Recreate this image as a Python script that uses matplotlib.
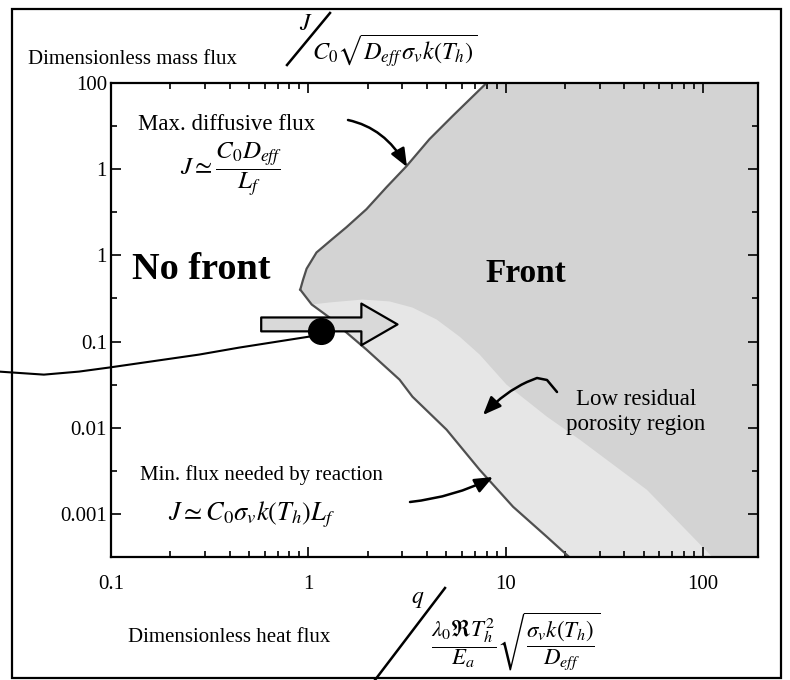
import numpy as np
import matplotlib
matplotlib.use("Agg")
import matplotlib.pyplot as plt
from matplotlib.patches import FancyArrowPatch, Rectangle, ArrowStyle
from matplotlib.path import Path
from matplotlib.lines import Line2D
from matplotlib.ticker import FixedLocator, FixedFormatter, NullFormatter, LogLocator

plt.rcParams['font.family'] = ['Liberation Serif', 'DejaVu Serif']
plt.rcParams['mathtext.fontset'] = 'stix'

# axis ranges
x_min, x_max = 0.1, 190.0
y_min, y_max = 3.16e-4, 100.0

# tick values and labels (as printed on the figure)
x_ticks = [0.1, 1, 10, 100]
x_tick_labels = ['0.1', '1', '10', '100']
y_ticks = [0.001, 0.01, 0.1, 1, 10, 100]
y_tick_labels = ['0.001', '0.01', '0.1', '1', '1', '100']
y_minor = [10**-2.5, 10**-1.5, 10**-0.5, 10**0.5, 10**1.5]

# upper boundary of the front region (max diffusive flux), from the nose upwards
upper_x = [0.91, 0.94, 0.98, 1.10, 1.32, 1.56, 1.97, 2.49, 3.14, 4.11, 5.38, 8.0]
upper_y = [0.40, 0.52, 0.70, 1.08, 1.54, 2.12, 3.43, 6.18, 10.8, 22.3, 41.3, 100]

# lower boundary (min flux needed by reaction), from the nose downwards
lower_x = [0.91, 1.04, 1.28, 1.52, 1.97, 2.90, 3.37, 5.02, 7.38, 10.9, 16.2, 21.5]
lower_y = [0.40, 0.269, 0.190, 0.134, 0.0807, 0.0361, 0.0229, 0.00948, 0.00325,
           0.00121, 0.00054, 0.0003]

# upper edge of the low residual porosity region
light_x = [1.04, 1.28, 1.88, 2.58, 3.37, 4.47, 5.84, 7.38, 10.1, 16.2, 23.8, 52.0, 114]
light_y = [0.269, 0.284, 0.307, 0.292, 0.248, 0.180, 0.114, 0.0706, 0.0316, 0.0134,
           0.00724, 0.0019, 0.0003]

# operating path ending at the black dot
traj_x = [0.027, 0.0457, 0.0689, 0.0977, 0.280, 0.447, 1.01, 1.16]
traj_y = [0.0448, 0.0413, 0.0448, 0.0499, 0.0706, 0.0851, 0.114, 0.131]

W, H = 790, 680


def fxy(px, py):
    # image pixel -> figure fraction
    return (px / W, 1 - py / H)


fig = plt.figure(figsize=(W / 100, H / 100), dpi=100)
ax = fig.add_axes([111 / W, 1 - 557 / H, 647 / W, 474 / H])
ax.set_xscale('log')
ax.set_yscale('log')
ax.set_xlim(x_min, x_max)
ax.set_ylim(y_min, y_max)

# shaded regions
ax.fill(np.r_[upper_x[::-1], lower_x[1:], [x_max, x_max]],
        np.r_[upper_y[::-1], lower_y[1:], [lower_y[-1], y_max]],
        color='#d3d3d3', lw=0, zorder=1)
ax.fill(np.r_[light_x, lower_x[:0:-1]], np.r_[light_y, lower_y[:0:-1]],
        color='#e6e6e6', lw=0, zorder=1)
ax.plot(upper_x, upper_y, color='#505050', lw=1.6, zorder=2)
ax.plot(lower_x, lower_y, color='#505050', lw=1.6, zorder=2)

# big block arrow and the operating point
block = FancyArrowPatch((0.577, 0.158), (2.83, 0.158),
                        arrowstyle=ArrowStyle.Simple(head_length=26, head_width=30, tail_width=10),
                        mutation_scale=1, shrinkA=0, shrinkB=0,
                        fc='#d9d9d9', ec='black', lw=1.6, zorder=4)
ax.add_patch(block)
ax.plot(traj_x, traj_y, color='black', lw=1.5, clip_on=False, zorder=5)
ax.plot(traj_x[-1], traj_y[-1], 'o', color='black', ms=18.5, zorder=6)

# ticks
ax.xaxis.set_major_locator(FixedLocator(x_ticks))
ax.xaxis.set_major_formatter(FixedFormatter(x_tick_labels))
ax.xaxis.set_minor_locator(LogLocator(base=10, subs=np.arange(2, 10)))
ax.xaxis.set_minor_formatter(NullFormatter())
ax.yaxis.set_major_locator(FixedLocator(y_ticks))
ax.yaxis.set_major_formatter(FixedFormatter(y_tick_labels))
ax.yaxis.set_minor_locator(FixedLocator(y_minor))
ax.yaxis.set_minor_formatter(NullFormatter())
ax.tick_params(which='both', direction='in', top=True, right=True, width=1.2, labelsize=15)
ax.tick_params(which='major', length=7)
ax.tick_params(which='minor', length=4)
ax.tick_params(axis='x', pad=13)
ax.tick_params(axis='y', pad=3)
for s in ax.spines.values():
    s.set_linewidth(1.6)
    s.set_zorder(7)

# region labels
fig.text(*fxy(132, 270), 'No front', fontsize=27.5, fontweight='bold', va='center')
fig.text(*fxy(485, 273), 'Front', fontsize=24, fontweight='bold', va='center')
fig.text(*fxy(636, 412), 'Low residual\nporosity region', fontsize=16.5, ha='center',
         va='center', linespacing=1.25)
fig.text(*fxy(138, 125), 'Max. diffusive flux', fontsize=16.5, va='center')
fig.text(*fxy(231, 170), r'$J \simeq \dfrac{C_0 D_{eff}}{L_f}$', fontsize=18,
         ha='center', va='center')
fig.text(*fxy(140, 475), 'Min. flux needed by reaction', fontsize=15, va='center')
fig.text(*fxy(168, 515), r'$J \simeq C_0\sigma_v k\left(T_h\right) L_f$', fontsize=19,
         va='center')

# axis titles with slanted fractions
fig.text(*fxy(28, 60), 'Dimensionless mass flux', fontsize=15, va='center')
fig.text(*fxy(306, 25), r'$J$', fontsize=17, ha='center', va='center')
fig.text(*fxy(312, 51), r'$C_0\sqrt{D_{eff}\,\sigma_v k\left(T_h\right)}$', fontsize=17.5,
         va='center')
fig.add_artist(Line2D(*zip(fxy(287, 65), fxy(330, 13)), color='black', lw=1.8,
                      transform=fig.transFigure))

fig.text(*fxy(128, 638), 'Dimensionless heat flux', fontsize=15, va='center')
fig.text(*fxy(418, 600), r'$q$', fontsize=17, ha='center', va='center')
fig.text(*fxy(516, 641),
         r'$\dfrac{\lambda_0\Re T_h^2}{E_a}\sqrt{\dfrac{\sigma_v k\left(T_h\right)}{D_{eff}}}$',
         fontsize=16.5, ha='center', va='center')
fig.add_artist(Line2D(*zip(fxy(375, 680), fxy(445, 588)), color='black', lw=1.8,
                      transform=fig.transFigure))

# curved pointer arrows
head = '-|>,head_length=1.1,head_width=0.45'
M, L, C = Path.MOVETO, Path.LINETO, Path.CURVE3
pointers = [
    ([(348, 120), (385, 128), (407, 167)], [M, C, C]),
    ([(557, 392), (547, 380), (537, 378), (527, 382), (505, 392), (483, 415)],
     [M, L, L, L, C, C]),
    ([(410, 502), (455, 497), (493, 477)], [M, C, C]),
]
for pts, codes in pointers:
    p = Path([fxy(*q) for q in pts], codes)
    fig.add_artist(FancyArrowPatch(path=p, arrowstyle=head, mutation_scale=10,
                                   lw=1.8, color='black', transform=fig.transFigure))

# outer frame
fig.add_artist(Rectangle(fxy(12, 678), (781 - 12) / W, (678 - 9) / H, fill=False,
                         lw=1.6, ec='black', transform=fig.transFigure))

fig.savefig('out.png', dpi=100)
